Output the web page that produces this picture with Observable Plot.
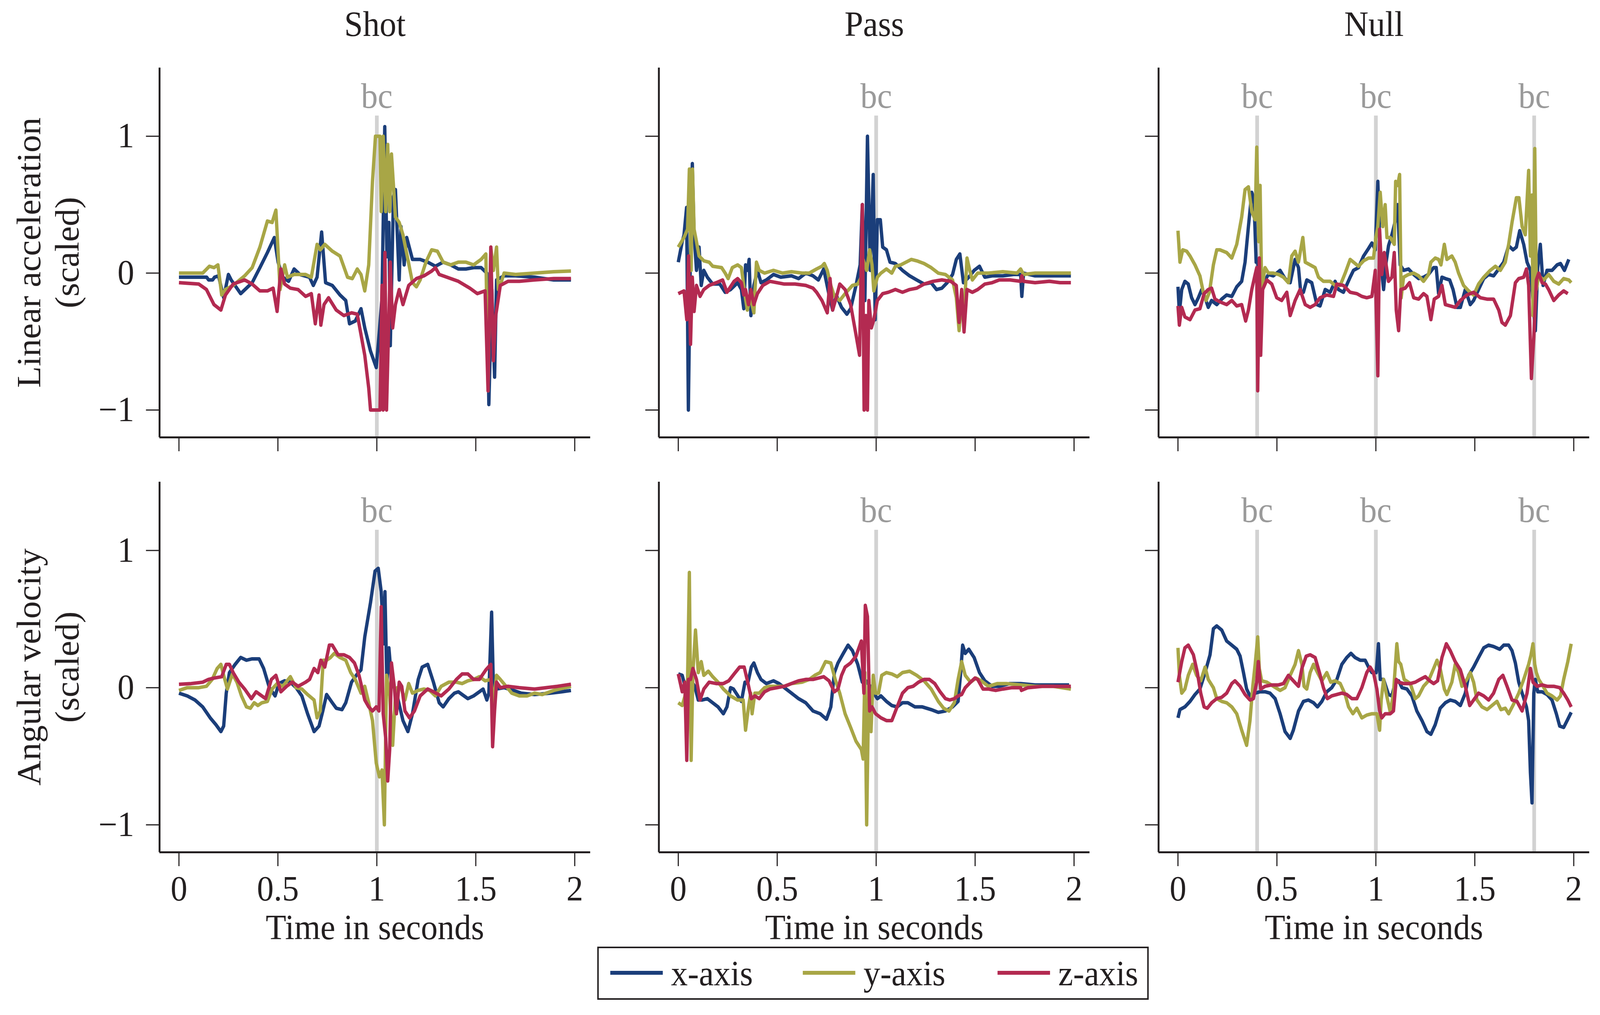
<!DOCTYPE html>
<html>
<head>
<meta charset="utf-8">
<script src="https://cdn.jsdelivr.net/npm/d3@7"></script>
<script src="https://cdn.jsdelivr.net/npm/@observablehq/plot@0.6"></script>
<style>
  html, body { margin: 0; padding: 0; background: #fff; overflow: hidden; }
  #root { position: absolute; left: 0; top: 0; width: 4297px; height: 2598px; overflow: hidden; background: #fff; transform-origin: 0 0; }
  .cell { position: absolute; }
  #legend { position: absolute; box-sizing: border-box; border: 4px solid #231f20; background: #fff;
            font-family: "Liberation Serif", "Times New Roman", serif; font-size: 90px; color: #231f20; }
  .sw { position: absolute; height: 10px; }
  .lt { position: absolute; line-height: 1; white-space: nowrap; }
</style>
</head>
<body>
<div id="root"></div>
<script>
// ---------- categories / labels ----------
const activities = ["Shot", "Pass", "Null"];
const sensors = ["Linear acceleration", "Angular velocity"];
const sensorSub = "(scaled)";
const seriesNames = ["x-axis", "y-axis", "z-axis"];
const xTicks = [0, 0.5, 1, 1.5, 2];
const yTicks = [-1, 0, 1];
const xLabel = "Time in seconds";
const bcLabel = "bc";
const bcTimes = { Shot: [1.0], Pass: [1.0], Null: [0.4, 1.0, 1.8] };

// ---------- series values: [time s, scaled value] ----------
// Shot – linear acceleration
const shotAccX = [[0,-0.03],[0.14,-0.03],[0.15,-0.05],[0.17,-0.05],[0.18,-0.03],[0.2,-0.02],[0.226,-0.18],[0.25,-0.01],[0.264,-0.05],[0.312,-0.15],[0.37,-0.07],[0.409,0.04],[0.447,0.15],[0.482,0.26],[0.501,0.08],[0.525,-0.03],[0.554,-0.06],[0.582,0.03],[0.611,-0.01],[0.66,-0.03],[0.679,-0.09],[0.698,-0.03],[0.721,0.3],[0.741,-0.07],[0.775,-0.09],[0.814,-0.16],[0.843,-0.2],[0.862,-0.37],[0.891,-0.35],[0.92,-0.26],[0.939,-0.4],[0.968,-0.57],[0.997,-0.69],[1.013,-0.42],[1.026,-0.18],[1.04,1.07],[1.051,0.12],[1.061,0.37],[1.068,-0.53],[1.084,0.56],[1.094,0.61],[1.113,-0.05],[1.122,0.34],[1.138,0.06],[1.151,0.26],[1.18,0.1],[1.219,0.1],[1.257,0.08],[1.296,0.05],[1.335,0.08],[1.373,0.06],[1.412,0.03],[1.45,0.03],[1.489,0.04],[1.527,0.04],[1.556,0],[1.566,-0.96],[1.581,-0.12],[1.595,-0.76],[1.605,-0.05],[1.643,-0.02],[1.701,-0.02],[1.797,-0.03],[1.894,-0.05],[1.981,-0.05]];
const shotAccY = [[0,0],[0.12,0],[0.154,0.05],[0.177,0.04],[0.197,0.06],[0.216,-0.16],[0.235,-0.12],[0.274,-0.09],[0.332,-0.02],[0.37,0.04],[0.409,0.19],[0.447,0.38],[0.471,0.37],[0.49,0.46],[0.511,-0.12],[0.534,0.06],[0.548,-0.03],[0.582,-0.01],[0.64,-0.01],[0.669,-0.03],[0.698,0.21],[0.714,0.17],[0.737,0.21],[0.775,0.16],[0.814,0.125],[0.852,-0.03],[0.876,-0.04],[0.901,0.03],[0.92,-0.01],[0.939,-0.13],[0.959,0.06],[0.978,0.67],[0.993,1],[1.016,1],[1.022,0.45],[1.032,1],[1.045,0.45],[1.055,0.94],[1.065,0.45],[1.074,0.87],[1.094,0.41],[1.113,0.37],[1.132,0.28],[1.157,0.1],[1.18,-0.07],[1.2,-0.1],[1.219,-0.05],[1.248,0.08],[1.277,0.17],[1.306,0.16],[1.335,0.08],[1.373,0.06],[1.412,0.08],[1.45,0.08],[1.489,0.06],[1.527,0.1],[1.551,0.14],[1.562,-0.86],[1.576,0.19],[1.589,0.02],[1.605,0.19],[1.614,-0.12],[1.628,-0.07],[1.643,0],[1.701,-0.01],[1.797,0],[1.894,0.01],[1.981,0.015]];
const shotAccZ = [[0,-0.07],[0.1,-0.08],[0.139,-0.12],[0.177,-0.23],[0.212,-0.27],[0.235,-0.16],[0.274,-0.08],[0.332,-0.05],[0.37,-0.08],[0.409,-0.13],[0.447,-0.13],[0.476,-0.11],[0.496,-0.28],[0.515,0.03],[0.534,-0.08],[0.563,-0.11],[0.602,-0.12],[0.64,-0.17],[0.669,-0.15],[0.689,-0.37],[0.708,-0.16],[0.717,-0.38],[0.733,-0.23],[0.756,-0.18],[0.795,-0.27],[0.833,-0.31],[0.872,-0.29],[0.901,-0.3],[0.92,-0.45],[0.939,-0.6],[0.959,-0.84],[0.968,-1],[1.016,-1],[1.026,-0.09],[1.032,-1],[1.041,0.15],[1.049,-1],[1.061,-0.31],[1.068,0.08],[1.08,-0.4],[1.094,-0.23],[1.113,-0.12],[1.132,-0.23],[1.161,-0.09],[1.2,-0.04],[1.238,-0.02],[1.277,0.015],[1.296,0.04],[1.315,-0.01],[1.354,-0.03],[1.412,-0.06],[1.47,-0.11],[1.508,-0.15],[1.547,-0.13],[1.562,-0.86],[1.576,0.19],[1.589,-0.64],[1.601,-0.31],[1.624,-0.09],[1.663,-0.06],[1.72,-0.06],[1.797,-0.05],[1.894,-0.04],[1.981,-0.04]];
// Pass – linear acceleration
const passAccX = [[0,0.08],[0.02,0.23],[0.029,0.28],[0.042,0.48],[0.051,-1],[0.062,0.23],[0.071,0.8],[0.08,0.28],[0.092,0.02],[0.105,0.19],[0.116,-0.09],[0.129,0.02],[0.147,-0.03],[0.174,-0.08],[0.21,-0.08],[0.237,-0.14],[0.264,-0.12],[0.3,-0.07],[0.319,-0.12],[0.331,-0.26],[0.34,0.06],[0.351,0.02],[0.358,0.1],[0.367,-0.31],[0.382,-0.09],[0.4,0.02],[0.418,-0.07],[0.445,-0.05],[0.481,-0.01],[0.518,-0.03],[0.572,-0.02],[0.608,-0.04],[0.644,0],[0.681,-0.02],[0.708,-0.05],[0.735,0.03],[0.762,-0.16],[0.78,-0.27],[0.798,-0.16],[0.825,-0.25],[0.852,-0.3],[0.871,-0.26],[0.898,-0.09],[0.919,0.06],[0.93,0.5],[0.943,-0.2],[0.956,1],[0.97,0.02],[0.985,0.72],[0.995,-0.34],[1.006,0.39],[1.021,0.39],[1.033,0.19],[1.052,0.17],[1.07,0.08],[1.097,0.07],[1.133,0.02],[1.169,-0.02],[1.205,-0.05],[1.242,-0.08],[1.278,-0.07],[1.305,-0.12],[1.332,-0.11],[1.359,-0.07],[1.386,-0.01],[1.405,0.1],[1.423,0.14],[1.441,-0.07],[1.468,-0.03],[1.495,0.02],[1.522,0.05],[1.549,-0.03],[1.586,-0.02],[1.64,-0.02],[1.694,-0.01],[1.73,-0.01],[1.736,-0.17],[1.745,0],[1.803,-0.02],[1.893,-0.02],[1.984,-0.02]];
const passAccY = [[0,0.19],[0.029,0.26],[0.047,0.32],[0.056,0.76],[0.065,0.02],[0.072,0.76],[0.08,0.32],[0.092,0.23],[0.105,0.125],[0.129,0.09],[0.156,0.08],[0.174,0.05],[0.219,0.04],[0.237,0],[0.252,-0.04],[0.273,0.04],[0.3,0.06],[0.319,0.04],[0.337,-0.16],[0.349,-0.27],[0.364,-0.17],[0.382,-0.29],[0.395,0.08],[0.409,0.02],[0.436,0],[0.481,0.02],[0.527,0],[0.572,0.01],[0.626,0],[0.662,0],[0.699,0.03],[0.726,0.05],[0.738,0.07],[0.753,0.02],[0.771,-0.09],[0.789,-0.17],[0.816,-0.2],[0.843,-0.15],[0.88,-0.09],[0.907,-0.08],[0.925,-0.03],[0.934,0.1],[0.952,0.02],[0.967,0.17],[0.979,0.06],[0.988,-0.13],[1.006,-0.03],[1.024,0],[1.052,0.03],[1.079,0],[1.097,0.05],[1.124,0.06],[1.151,0.08],[1.178,0.1],[1.205,0.09],[1.242,0.07],[1.278,0.04],[1.314,0],[1.35,-0.01],[1.386,-0.05],[1.405,-0.18],[1.419,-0.42],[1.432,-0.2],[1.444,-0.31],[1.459,0.11],[1.473,0.02],[1.486,-0.05],[1.513,0],[1.567,0],[1.64,0.01],[1.712,0],[1.73,0.03],[1.745,-0.01],[1.803,0],[1.893,0],[1.984,0]];
const passAccZ = [[0,-0.15],[0.029,-0.13],[0.043,-0.34],[0.052,0.125],[0.062,-0.52],[0.071,-0.03],[0.08,-0.28],[0.092,-0.09],[0.11,-0.17],[0.129,-0.12],[0.156,-0.09],[0.192,-0.07],[0.224,-0.05],[0.246,-0.14],[0.282,-0.06],[0.3,-0.04],[0.319,-0.07],[0.331,-0.16],[0.34,-0.12],[0.355,-0.23],[0.367,-0.12],[0.382,-0.23],[0.4,-0.15],[0.427,-0.09],[0.463,-0.06],[0.5,-0.07],[0.536,-0.08],[0.59,-0.08],[0.644,-0.09],[0.681,-0.11],[0.699,-0.14],[0.726,-0.2],[0.753,-0.29],[0.767,-0.04],[0.78,-0.27],[0.798,-0.18],[0.816,-0.08],[0.843,-0.12],[0.871,-0.23],[0.898,-0.45],[0.916,-0.6],[0.93,0.5],[0.939,-1],[0.948,-0.31],[0.956,-1],[0.963,-0.2],[0.976,-0.4],[0.988,-0.34],[1.006,-0.2],[1.033,-0.15],[1.061,-0.14],[1.097,-0.12],[1.133,-0.14],[1.169,-0.12],[1.205,-0.11],[1.242,-0.08],[1.287,-0.06],[1.332,-0.05],[1.377,-0.06],[1.405,-0.09],[1.419,-0.36],[1.432,-0.12],[1.444,-0.43],[1.459,-0.12],[1.486,-0.14],[1.513,-0.12],[1.549,-0.08],[1.586,-0.07],[1.622,-0.05],[1.676,-0.05],[1.73,-0.06],[1.736,-0.02],[1.745,-0.06],[1.803,-0.07],[1.875,-0.06],[1.929,-0.07],[1.984,-0.07]];
// Null – linear acceleration
const nullAccX = [[0,-0.1],[0.007,-0.29],[0.019,-0.12],[0.035,-0.06],[0.052,-0.08],[0.069,-0.18],[0.086,-0.23],[0.103,-0.18],[0.12,-0.12],[0.137,-0.18],[0.153,-0.25],[0.17,-0.2],[0.196,-0.23],[0.221,-0.19],[0.246,-0.16],[0.272,-0.17],[0.297,-0.1],[0.322,-0.06],[0.339,0.08],[0.356,0.34],[0.373,0.59],[0.384,0.54],[0.395,0.08],[0.403,0.08],[0.415,-0.12],[0.432,-0.07],[0.457,-0.01],[0.482,-0.02],[0.516,0.02],[0.541,-0.04],[0.567,-0.07],[0.592,0.1],[0.609,0.04],[0.621,-0.15],[0.634,-0.14],[0.651,-0.05],[0.676,-0.07],[0.702,-0.23],[0.718,-0.24],[0.744,-0.12],[0.769,-0.14],[0.794,-0.06],[0.811,-0.12],[0.836,-0.14],[0.87,-0.03],[0.887,0.02],[0.912,0.04],[0.938,0.125],[0.963,0.18],[0.98,0.22],[0.997,0.17],[1.01,0.67],[1.022,0.125],[1.039,-0.12],[1.052,0.08],[1.064,0.2],[1.081,0.28],[1.098,0.38],[1.11,0.5],[1.123,0.06],[1.14,0.02],[1.165,0.03],[1.191,-0.01],[1.216,-0.04],[1.241,-0.03],[1.266,-0.01],[1.292,0.04],[1.305,0.04],[1.317,-0.15],[1.334,-0.03],[1.351,-0.04],[1.373,-0.05],[1.39,-0.12],[1.41,-0.25],[1.427,-0.25],[1.452,-0.12],[1.477,-0.23],[1.494,-0.2],[1.519,-0.12],[1.545,-0.04],[1.57,-0.01],[1.595,-0.02],[1.621,0.03],[1.646,0.08],[1.671,0.2],[1.693,0.17],[1.71,0.19],[1.727,0.31],[1.747,0.21],[1.764,0.08],[1.781,0.02],[1.794,-0.2],[1.806,-0.42],[1.818,0.04],[1.831,0.21],[1.845,-0.09],[1.865,0.02],[1.89,0.02],[1.916,0.06],[1.933,0.07],[1.953,0.02],[1.975,0.1]];
const nullAccY = [[0,0.31],[0.01,0.08],[0.024,0.17],[0.044,0.16],[0.061,0.125],[0.086,0.06],[0.111,-0.02],[0.128,-0.14],[0.142,-0.2],[0.159,-0.14],[0.179,0.06],[0.196,0.17],[0.212,0.17],[0.246,0.15],[0.272,0.11],[0.297,0.21],[0.322,0.41],[0.339,0.61],[0.356,0.63],[0.373,0.45],[0.39,0.39],[0.398,0.92],[0.408,0.23],[0.415,0.64],[0.423,-0.12],[0.44,0.04],[0.457,0],[0.482,0],[0.508,-0.01],[0.533,-0.03],[0.558,-0.07],[0.575,0.125],[0.592,0.16],[0.609,0.08],[0.631,0.26],[0.643,0.08],[0.668,0.06],[0.693,0.04],[0.71,-0.03],[0.735,-0.06],[0.769,-0.06],[0.794,-0.09],[0.82,-0.09],[0.845,0],[0.87,0.1],[0.887,0.08],[0.912,0.05],[0.938,0.09],[0.963,0.11],[0.988,0.11],[1.0,0.26],[1.01,0.34],[1.022,0.59],[1.035,0.34],[1.047,0.5],[1.056,0.26],[1.073,0.26],[1.093,0.21],[1.1,0.67],[1.11,0.64],[1.12,0.72],[1.128,-0.18],[1.14,-0.03],[1.165,-0.01],[1.191,0],[1.216,-0.02],[1.241,-0.06],[1.266,-0.01],[1.278,0.08],[1.3,0.11],[1.317,0.1],[1.329,0.06],[1.346,0.21],[1.359,0.1],[1.384,0.125],[1.401,0.08],[1.418,0],[1.443,-0.09],[1.469,-0.13],[1.494,-0.16],[1.519,-0.08],[1.545,-0.03],[1.578,0.02],[1.604,0.05],[1.629,0.02],[1.654,0.08],[1.671,0.21],[1.688,0.37],[1.71,0.55],[1.723,0.55],[1.739,0.34],[1.755,0.28],[1.772,0.75],[1.781,0.125],[1.789,0.57],[1.794,-0.31],[1.803,0.91],[1.811,-0.12],[1.823,-0.02],[1.848,-0.05],[1.873,-0.01],[1.899,-0.06],[1.924,-0.08],[1.949,-0.04],[1.975,-0.05],[1.987,-0.07]];
const nullAccZ = [[0,-0.24],[0.007,-0.38],[0.019,-0.25],[0.035,-0.32],[0.061,-0.34],[0.086,-0.27],[0.111,-0.26],[0.132,-0.15],[0.153,-0.12],[0.17,-0.11],[0.187,-0.19],[0.212,-0.21],[0.246,-0.23],[0.272,-0.2],[0.297,-0.24],[0.322,-0.23],[0.342,-0.35],[0.356,-0.27],[0.373,-0.12],[0.39,-0.01],[0.398,0.04],[0.403,-0.86],[0.411,0.11],[0.418,-0.6],[0.428,-0.12],[0.449,-0.05],[0.474,-0.08],[0.499,-0.18],[0.524,-0.2],[0.55,-0.14],[0.567,-0.31],[0.592,-0.2],[0.617,-0.12],[0.643,-0.23],[0.668,-0.25],[0.693,-0.23],[0.718,-0.18],[0.752,-0.16],[0.786,-0.17],[0.803,-0.08],[0.836,-0.09],[0.87,-0.14],[0.904,-0.15],[0.929,-0.17],[0.954,-0.18],[0.98,-0.17],[0.997,0.02],[1.01,-0.75],[1.019,0.32],[1.03,-0.01],[1.042,0.15],[1.052,0.06],[1.064,-0.06],[1.081,-0.03],[1.093,0.15],[1.103,-0.27],[1.115,-0.42],[1.126,-0.12],[1.148,-0.11],[1.17,-0.07],[1.191,-0.18],[1.216,-0.19],[1.241,-0.15],[1.258,-0.17],[1.278,-0.34],[1.295,-0.19],[1.317,-0.17],[1.334,-0.09],[1.351,-0.23],[1.376,-0.24],[1.401,-0.25],[1.427,-0.2],[1.46,-0.16],[1.494,-0.14],[1.528,-0.18],[1.562,-0.19],[1.595,-0.19],[1.621,-0.27],[1.637,-0.36],[1.654,-0.38],[1.68,-0.31],[1.705,-0.07],[1.722,-0.04],[1.747,-0.03],[1.761,0.03],[1.772,-0.09],[1.786,-0.77],[1.798,-0.47],[1.811,-0.05],[1.823,0],[1.84,-0.07],[1.857,-0.08],[1.873,-0.12],[1.899,-0.2],[1.924,-0.16],[1.949,-0.13],[1.97,-0.15]];
// Shot – angular velocity
const shotGyrX = [[0,-0.04],[0.042,-0.06],[0.081,-0.09],[0.12,-0.14],[0.158,-0.22],[0.187,-0.27],[0.212,-0.32],[0.226,-0.28],[0.239,-0.04],[0.255,0.11],[0.284,0.17],[0.312,0.22],[0.341,0.2],[0.37,0.21],[0.405,0.21],[0.428,0.14],[0.457,0],[0.486,-0.06],[0.505,0.03],[0.534,0.05],[0.563,0.04],[0.592,0],[0.621,-0.06],[0.65,-0.19],[0.683,-0.32],[0.708,-0.28],[0.727,-0.17],[0.746,-0.05],[0.775,-0.11],[0.795,-0.15],[0.824,-0.16],[0.843,-0.11],[0.872,0.04],[0.901,0.1],[0.92,0.13],[0.939,0.37],[0.968,0.62],[0.991,0.85],[1.007,0.87],[1.022,0.7],[1.036,0.32],[1.041,0.7],[1.051,0.01],[1.061,0.29],[1.074,0.06],[1.103,-0.06],[1.132,-0.24],[1.157,-0.32],[1.18,-0.19],[1.209,0.06],[1.229,0.15],[1.257,0.17],[1.286,0.04],[1.315,-0.11],[1.335,-0.14],[1.364,-0.08],[1.392,-0.04],[1.412,-0.03],[1.431,-0.05],[1.46,-0.08],[1.489,-0.06],[1.518,-0.03],[1.537,-0.01],[1.556,-0.09],[1.566,-0.04],[1.58,0.55],[1.589,0.01],[1.605,-0.01],[1.643,0],[1.691,-0.02],[1.73,-0.04],[1.797,-0.05],[1.875,-0.04],[1.933,-0.03],[1.981,-0.02]];
const shotGyrY = [[0,-0.02],[0.042,0],[0.1,0],[0.139,0.01],[0.168,0.06],[0.193,0.14],[0.212,0.17],[0.226,0.09],[0.245,-0.01],[0.27,0.1],[0.293,0.04],[0.316,-0.06],[0.341,-0.14],[0.361,-0.15],[0.38,-0.11],[0.399,-0.13],[0.419,-0.11],[0.447,-0.1],[0.471,-0.01],[0.496,0.03],[0.525,0.01],[0.563,0.08],[0.592,0],[0.621,-0.01],[0.65,-0.05],[0.683,-0.09],[0.698,-0.22],[0.714,-0.17],[0.729,0.2],[0.746,0.2],[0.766,0.22],[0.785,0.25],[0.814,0.22],[0.843,0.2],[0.868,0.11],[0.891,0.06],[0.92,-0.04],[0.939,0.01],[0.959,-0.11],[0.978,-0.24],[0.997,-0.55],[1.013,-0.65],[1.026,-0.6],[1.038,-1],[1.049,0.09],[1.065,-0.06],[1.08,-0.42],[1.094,-0.06],[1.103,0],[1.122,0],[1.142,-0.09],[1.161,0.03],[1.18,-0.04],[1.209,-0.02],[1.238,-0.01],[1.267,-0.02],[1.296,-0.06],[1.325,0.01],[1.364,0.04],[1.402,0.04],[1.431,0.03],[1.46,0.05],[1.489,0.06],[1.518,0.08],[1.547,0.05],[1.576,0.06],[1.591,-0.11],[1.605,0.09],[1.624,0.06],[1.653,0.01],[1.682,-0.04],[1.72,-0.06],[1.759,-0.06],[1.797,-0.04],[1.836,-0.05],[1.894,-0.02],[1.952,0],[1.981,0.01]];
const shotGyrZ = [[0,0.025],[0.062,0.03],[0.12,0.04],[0.149,0.06],[0.177,0.07],[0.216,0.08],[0.239,0.17],[0.255,0.17],[0.274,0.11],[0.303,0.04],[0.332,-0.01],[0.366,-0.08],[0.39,-0.03],[0.409,-0.05],[0.438,-0.08],[0.467,0.06],[0.49,0.09],[0.515,-0.03],[0.544,0.01],[0.573,0.04],[0.602,0.01],[0.64,0.04],[0.66,0.06],[0.683,0.14],[0.702,0.11],[0.717,0.2],[0.737,0.15],[0.76,0.31],[0.775,0.31],[0.804,0.24],[0.833,0.24],[0.862,0.22],[0.887,0.18],[0.91,0.09],[0.939,-0.09],[0.959,-0.14],[0.978,-0.17],[0.997,-0.14],[1.011,-0.17],[1.022,0.59],[1.032,-0.19],[1.045,-0.37],[1.055,-0.68],[1.065,-0.45],[1.074,0.18],[1.088,0.01],[1.099,-0.19],[1.113,0.04],[1.126,0.01],[1.142,-0.17],[1.165,-0.22],[1.19,-0.17],[1.219,-0.06],[1.257,-0.01],[1.286,-0.03],[1.325,-0.06],[1.364,-0.01],[1.402,0.06],[1.431,0.1],[1.46,0.1],[1.489,0.06],[1.518,0.06],[1.551,0.13],[1.576,0.17],[1.585,-0.43],[1.595,-0.17],[1.605,0.04],[1.624,0],[1.663,0.01],[1.72,0],[1.797,-0.01],[1.855,0],[1.913,0.01],[1.981,0.025]];
// Pass – angular velocity
const passGyrX = [[0,0.1],[0.02,0.09],[0.038,-0.01],[0.051,0.06],[0.065,0.05],[0.083,0.01],[0.101,-0.09],[0.119,-0.09],[0.147,-0.08],[0.174,-0.11],[0.201,-0.14],[0.228,-0.19],[0.246,-0.14],[0.264,0],[0.279,-0.01],[0.297,-0.05],[0.319,-0.1],[0.337,0.04],[0.351,0.03],[0.369,0.15],[0.382,0.18],[0.4,0.11],[0.418,0.06],[0.445,0.03],[0.481,0.05],[0.509,0.03],[0.536,0],[0.572,-0.04],[0.608,-0.08],[0.644,-0.11],[0.681,-0.17],[0.717,-0.19],[0.749,-0.23],[0.771,-0.14],[0.789,0.11],[0.807,0.18],[0.834,0.25],[0.858,0.31],[0.88,0.27],[0.907,0.17],[0.93,0.04],[0.948,0.05],[0.97,0.01],[0.988,-0.04],[1.006,-0.08],[1.024,-0.06],[1.052,-0.1],[1.079,-0.13],[1.106,-0.14],[1.133,-0.11],[1.16,-0.11],[1.196,-0.14],[1.233,-0.14],[1.278,-0.16],[1.314,-0.18],[1.35,-0.17],[1.386,-0.14],[1.414,-0.1],[1.426,0.09],[1.437,0.31],[1.45,0.25],[1.468,0.28],[1.495,0.22],[1.522,0.11],[1.549,0.05],[1.586,0.01],[1.622,0.01],[1.676,0.03],[1.73,0.03],[1.803,0.02],[1.893,0.02],[1.975,0.02]];
const passGyrY = [[0,-0.11],[0.02,-0.13],[0.034,-0.06],[0.047,0.06],[0.056,0.84],[0.065,-0.53],[0.074,0.11],[0.087,0.42],[0.101,0.11],[0.116,0.19],[0.129,0.09],[0.152,0.12],[0.174,0.08],[0.201,0.04],[0.228,-0.01],[0.264,-0.06],[0.3,-0.09],[0.328,-0.09],[0.34,-0.31],[0.355,-0.14],[0.366,-0.04],[0.373,-0.19],[0.387,-0.04],[0.409,-0.04],[0.436,0],[0.463,0.01],[0.5,0.01],[0.536,0.01],[0.572,0.03],[0.626,0.04],[0.662,0.06],[0.69,0.09],[0.717,0.11],[0.744,0.19],[0.771,0.18],[0.793,0.06],[0.816,-0.04],[0.843,-0.19],[0.871,-0.29],[0.898,-0.39],[0.925,-0.45],[0.934,-0.52],[0.943,0.11],[0.952,-1],[0.963,0.06],[0.974,-0.32],[0.985,0.09],[0.997,-0.04],[1.012,-0.04],[1.028,0.09],[1.052,0.11],[1.079,0.1],[1.106,0.08],[1.133,0.11],[1.169,0.12],[1.205,0.09],[1.242,0.05],[1.278,-0.01],[1.314,-0.1],[1.341,-0.15],[1.368,-0.17],[1.395,-0.11],[1.414,0.06],[1.432,0.19],[1.45,0.09],[1.477,0.04],[1.504,0.07],[1.531,0.05],[1.567,0.01],[1.613,0.03],[1.658,0.03],[1.73,0.02],[1.803,0.01],[1.893,0.01],[1.984,-0.01]];
const passGyrZ = [[0,0.1],[0.02,-0.03],[0.033,0.04],[0.043,-0.53],[0.051,0.06],[0.062,0.06],[0.074,0.14],[0.092,0.06],[0.11,-0.09],[0.129,-0.01],[0.156,0.04],[0.192,0.03],[0.228,0.03],[0.255,0.05],[0.282,0.1],[0.31,0.15],[0.333,0.15],[0.351,0.04],[0.369,-0.08],[0.387,-0.06],[0.409,-0.08],[0.436,-0.03],[0.463,-0.01],[0.5,0],[0.536,0.01],[0.572,0.03],[0.608,0.05],[0.644,0.06],[0.681,0.06],[0.708,0.07],[0.735,0.08],[0.762,0.05],[0.789,-0.03],[0.807,-0.01],[0.825,0.09],[0.843,0.15],[0.871,0.18],[0.898,0.23],[0.925,0.34],[0.938,-0.04],[0.945,0.6],[0.956,0.52],[0.967,-0.17],[0.979,-0.14],[0.997,-0.19],[1.024,-0.22],[1.052,-0.24],[1.079,-0.24],[1.106,-0.14],[1.133,-0.04],[1.16,0],[1.187,0.01],[1.214,0.04],[1.242,0.06],[1.269,0.06],[1.296,0.03],[1.323,-0.03],[1.35,-0.08],[1.372,-0.09],[1.395,-0.08],[1.414,-0.06],[1.432,-0.05],[1.45,0],[1.477,0.04],[1.499,0.07],[1.513,0.06],[1.54,-0.01],[1.567,-0.01],[1.604,-0.02],[1.64,-0.01],[1.686,0],[1.73,0],[1.734,-0.02],[1.767,0],[1.839,0.01],[1.929,0.01],[1.984,0.01]];
// Null – angular velocity
const nullGyrX = [[0,-0.22],[0.01,-0.16],[0.035,-0.14],[0.061,-0.1],[0.086,-0.05],[0.111,-0.01],[0.137,0.11],[0.162,0.24],[0.179,0.43],[0.196,0.45],[0.221,0.42],[0.246,0.34],[0.272,0.31],[0.297,0.28],[0.314,0.23],[0.331,0.11],[0.347,-0.01],[0.364,-0.06],[0.39,-0.04],[0.415,-0.03],[0.44,-0.03],[0.465,-0.04],[0.491,-0.08],[0.516,-0.19],[0.541,-0.32],[0.567,-0.37],[0.583,-0.31],[0.609,-0.17],[0.634,-0.1],[0.659,-0.09],[0.685,-0.11],[0.705,-0.14],[0.727,-0.1],[0.752,-0.03],[0.777,0],[0.803,0.06],[0.828,0.17],[0.853,0.22],[0.874,0.25],[0.895,0.22],[0.921,0.2],[0.946,0.2],[0.963,0.15],[0.98,0.11],[1.002,0.11],[1.013,0.32],[1.022,0.06],[1.039,0.06],[1.064,-0.05],[1.081,-0.06],[1.098,0.04],[1.115,0.05],[1.132,0],[1.157,-0.01],[1.182,-0.06],[1.207,-0.17],[1.233,-0.24],[1.258,-0.32],[1.278,-0.34],[1.3,-0.27],[1.325,-0.15],[1.351,-0.11],[1.376,-0.09],[1.401,-0.1],[1.427,-0.13],[1.452,-0.04],[1.469,0.09],[1.494,0.15],[1.519,0.22],[1.545,0.29],[1.57,0.31],[1.595,0.3],[1.626,0.28],[1.646,0.31],[1.671,0.31],[1.688,0.27],[1.705,0.18],[1.722,0.04],[1.739,-0.04],[1.761,-0.14],[1.772,-0.24],[1.781,-0.62],[1.789,-0.84],[1.798,-0.04],[1.806,0.06],[1.818,-0.03],[1.84,-0.03],[1.865,-0.05],[1.89,-0.09],[1.912,-0.19],[1.929,-0.28],[1.949,-0.29],[1.97,-0.23],[1.987,-0.18]];
const nullGyrY = [[0,0.29],[0.007,0.09],[0.019,-0.04],[0.035,-0.01],[0.052,0.09],[0.074,0.17],[0.094,0.09],[0.115,0.05],[0.137,0.15],[0.153,0.06],[0.179,0],[0.196,-0.08],[0.221,-0.1],[0.246,-0.11],[0.272,-0.14],[0.297,-0.19],[0.322,-0.31],[0.347,-0.42],[0.364,-0.24],[0.378,0.01],[0.39,0.17],[0.403,0.37],[0.411,0.14],[0.423,0.05],[0.449,0.04],[0.482,0.01],[0.516,-0.02],[0.541,0],[0.567,0.09],[0.592,0.17],[0.609,0.27],[0.626,0.17],[0.637,0.01],[0.651,-0.01],[0.668,0.11],[0.685,0.17],[0.705,0.11],[0.727,0.05],[0.752,0.11],[0.772,0.04],[0.794,0.05],[0.82,0.03],[0.845,-0.05],[0.862,-0.14],[0.884,-0.19],[0.904,-0.15],[0.929,-0.22],[0.954,-0.2],[0.98,-0.19],[1.005,-0.19],[1.019,-0.31],[1.027,-0.09],[1.039,0.06],[1.052,-0.04],[1.073,-0.18],[1.089,-0.04],[1.106,0.32],[1.115,0.19],[1.126,0.17],[1.143,0.06],[1.174,0.03],[1.199,-0.08],[1.216,-0.06],[1.241,0.01],[1.266,0.05],[1.292,0.14],[1.309,0.2],[1.325,0.14],[1.346,-0.01],[1.359,-0.05],[1.384,0.04],[1.401,0.17],[1.418,0.11],[1.435,0.01],[1.46,0.06],[1.477,0.11],[1.494,0.04],[1.511,-0.09],[1.536,-0.14],[1.562,-0.16],[1.587,-0.13],[1.612,-0.1],[1.632,-0.16],[1.654,-0.15],[1.671,-0.19],[1.696,-0.12],[1.722,-0.04],[1.747,0.06],[1.772,0.17],[1.784,0.24],[1.794,0.32],[1.803,0.17],[1.811,0.11],[1.823,0.06],[1.845,0.01],[1.865,-0.04],[1.89,-0.06],[1.916,-0.09],[1.933,-0.06],[1.949,0.06],[1.97,0.19],[1.987,0.32]];
const nullGyrZ = [[0,0.04],[0.019,0.19],[0.035,0.29],[0.052,0.31],[0.078,0.24],[0.098,0.11],[0.115,-0.04],[0.132,-0.14],[0.148,-0.15],[0.17,-0.11],[0.196,-0.08],[0.221,-0.07],[0.246,-0.04],[0.272,0.03],[0.288,0.05],[0.314,0.01],[0.339,-0.05],[0.364,-0.09],[0.381,-0.08],[0.398,0.04],[0.406,0.19],[0.418,-0.01],[0.44,0.01],[0.474,0.02],[0.508,0.02],[0.533,0.03],[0.558,0.09],[0.583,0.05],[0.609,0.01],[0.626,0.14],[0.648,0.23],[0.668,0.24],[0.693,0.22],[0.715,0.11],[0.735,0],[0.755,-0.08],[0.777,-0.06],[0.803,-0.05],[0.828,-0.04],[0.853,-0.05],[0.879,-0.08],[0.904,-0.08],[0.929,0],[0.954,0.11],[0.971,0.15],[0.988,0.11],[1.005,-0.01],[1.019,-0.17],[1.03,-0.22],[1.047,-0.19],[1.073,-0.19],[1.089,-0.17],[1.103,0.06],[1.115,0.04],[1.14,0.03],[1.174,0.03],[1.199,0.04],[1.224,0.06],[1.25,0.08],[1.272,0.05],[1.292,0.03],[1.312,0.05],[1.334,0.22],[1.356,0.32],[1.376,0.27],[1.401,0.19],[1.427,0.13],[1.452,0.01],[1.474,-0.13],[1.494,-0.09],[1.519,-0.04],[1.545,-0.06],[1.57,-0.09],[1.595,-0.04],[1.621,0.06],[1.642,0.09],[1.663,0.01],[1.688,-0.09],[1.713,-0.1],[1.739,-0.17],[1.764,-0.04],[1.781,0.14],[1.794,0.04],[1.815,0.01],[1.84,0.02],[1.865,0.01],[1.899,0.01],[1.929,0],[1.949,-0.04],[1.97,-0.09],[1.987,-0.14]];

// ---------- style ----------
const FONT = '"Liberation Serif", "Times New Roman", serif';
const INK = "#231f20";
const COLORS = ["#1b3e7a", "#a8a646", "#b32a51"];
const BC_LINE = "#d2d2d2";
const BC_TEXT = "#9a9a9a";
const FS = 90;

const panels = [
  [[shotAccX, shotAccY, shotAccZ], [passAccX, passAccY, passAccZ], [nullAccX, nullAccY, nullAccZ]],
  [[shotGyrX, shotGyrY, shotGyrZ], [passGyrX, passGyrY, passGyrZ], [nullGyrX, nullGyrY, nullGyrZ]]
];

const xDomain = [-0.098, 2.079];
const yDomain = [-1.2, 1.5];
const innerW = 1157;
const colLeft = [0, 1569, 2911];       // svg left edge
const colMarginLeft = [428, 200, 200];
const rowTop = [0, 1060];
const rowInnerH = [946, 948];
const rowMarginBottom = [60, 240];
const marginTop = 173;
const fmt = d3.format("");

const root = document.getElementById("root");
// fit the 4297×2598 layout to the actual viewport
const fitW = window.innerWidth || 4297, fitH = window.innerHeight || 2598;
root.style.transform = `scale(${fitW / 4297}, ${fitH / 2598})`;

for (let r = 0; r < 2; r++) {
  for (let c = 0; c < 3; c++) {
    const act = activities[c];
    const [sx, sy, sz] = panels[r][c];
    const bc = bcTimes[act];
    const marks = [
      Plot.ruleX(bc, {x: d => d, y1: yDomain[0], y2: 1.15, stroke: BC_LINE, strokeWidth: 10}),
      Plot.text(bc, {x: d => d, y: 1.208, text: () => bcLabel, fill: BC_TEXT, fontSize: FS, lineAnchor: "bottom"}),
      ...[sx, sy, sz].map((s, i) => Plot.line(s, {x: d => d[0], y: d => d[1], stroke: COLORS[i], strokeWidth: 9, strokeLinejoin: "round", strokeLinecap: "butt"})),
      Plot.axisY({ticks: yTicks, tickSize: 36, tickPadding: 32, strokeWidth: 3, fontSize: FS,
                  tickFormat: c === 0 ? fmt : () => "", label: null}),
      Plot.axisX({ticks: xTicks, tickSize: 36, tickPadding: 24, strokeWidth: 3, fontSize: FS,
                  tickFormat: r === 1 ? fmt : () => "", label: null}),
      Plot.ruleX([xDomain[0]], {stroke: INK, strokeWidth: 5}),
      Plot.ruleY([yDomain[0]], {stroke: INK, strokeWidth: 5})
    ];
    if (r === 0) {
      marks.push(Plot.text([act], {frameAnchor: "top", dy: -82, lineAnchor: "bottom", textAnchor: "middle", fill: INK, fontSize: FS}));
    } else {
      marks.push(Plot.text([xLabel], {frameAnchor: "bottom", dy: 222, lineAnchor: "bottom", textAnchor: "middle", fill: INK, fontSize: FS}));
    }
    if (c === 0) {
      marks.push(Plot.text([sensors[r]], {frameAnchor: "left", dx: 108 - 428, rotate: -90, textAnchor: "middle", lineAnchor: "bottom", fill: INK, fontSize: FS}));
      marks.push(Plot.text([sensorSub], {frameAnchor: "left", dx: 210 - 428, rotate: -90, textAnchor: "middle", lineAnchor: "bottom", fill: INK, fontSize: FS}));
    }
    const ml = colMarginLeft[c];
    const chart = Plot.plot({
      width: ml + innerW + 30,
      height: marginTop + rowInnerH[r] + rowMarginBottom[r],
      marginLeft: ml, marginRight: 30, marginTop: marginTop, marginBottom: rowMarginBottom[r],
      x: {domain: xDomain},
      y: {domain: yDomain},
      style: {fontFamily: FONT, fontSize: FS + "px", color: INK, background: "transparent", overflow: "visible", maxWidth: "none"},
      marks
    });
    const div = document.createElement("div");
    div.className = "cell";
    div.style.left = colLeft[c] + "px";
    div.style.top = rowTop[r] + "px";
    div.appendChild(chart);
    root.appendChild(div);
  }
}

// ---------- legend ----------
const legend = document.createElement("div");
legend.id = "legend";
legend.style.left = "1604px"; legend.style.top = "2423px";
legend.style.width = "1481px"; legend.style.height = "136px";
const swLeft = [31, 548, 1071];
seriesNames.forEach((name, i) => {
  const sw = document.createElement("div");
  sw.className = "sw";
  sw.style.left = swLeft[i] + "px"; sw.style.top = (67 - 4 - 5) + "px";
  sw.style.width = "141px"; sw.style.background = COLORS[i];
  legend.appendChild(sw);
  const t = document.createElement("div");
  t.className = "lt";
  t.textContent = name;
  t.style.left = (swLeft[i] + 163) + "px";
  t.style.top = "20px";
  legend.appendChild(t);
});
root.appendChild(legend);
</script>
</body>
</html>
